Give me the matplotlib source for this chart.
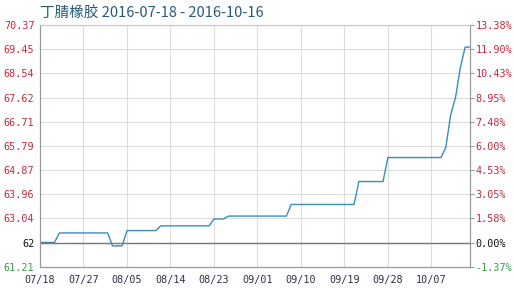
import numpy as np
import pandas as pd
import matplotlib
matplotlib.use('Agg')
import matplotlib.pyplot as plt

# price readings (date, price) at the points where the line changes
dates = ['2016-07-18', '2016-07-21', '2016-07-22', '2016-08-01', '2016-08-02',
         '2016-08-04', '2016-08-05', '2016-08-11', '2016-08-12', '2016-08-22',
         '2016-08-23', '2016-08-25', '2016-08-26', '2016-09-07', '2016-09-08',
         '2016-09-21', '2016-09-22', '2016-09-27', '2016-09-28', '2016-10-09',
         '2016-10-10', '2016-10-11', '2016-10-12', '2016-10-13', '2016-10-14',
         '2016-10-15']
prices = [62.13, 62.13, 62.49, 62.49, 62.00,
          62.00, 62.58, 62.58, 62.76, 62.76,
          63.02, 63.02, 63.13, 63.13, 63.57,
          63.57, 64.44, 64.44, 65.35, 65.35,
          65.74, 66.97, 67.63, 68.76, 69.54,
          69.54]

left_labels = ['61.21', '62', '63.04', '63.96', '64.87', '65.79',
               '66.71', '67.62', '68.54', '69.45', '70.37']
right_labels = ['-1.37%', '0.00%', '1.58%', '3.05%', '4.53%', '6.00%',
                '7.48%', '8.95%', '10.43%', '11.90%', '13.38%']
x_labels = ['07/18', '07/27', '08/05', '08/14', '08/23',
            '09/01', '09/10', '09/19', '09/28', '10/07']
title = '丁腈橡胶 2016-07-18 - 2016-10-16'

red = '#c8283c'
green = '#3f9a4a'
mono = 'DejaVu Sans Mono'

x = pd.to_datetime(dates)
start = pd.Timestamp('2016-07-18')
xt = [start + pd.Timedelta(days=9 * i) for i in range(len(x_labels))]

fig = plt.figure(figsize=(5.14, 2.92), dpi=100)
ax = fig.add_axes([40 / 514, 25.3 / 292, 430 / 514, 241.5 / 292])

ymin, ymax = 61.21, 70.37
yt = np.linspace(ymin, ymax, len(left_labels))

ax.set_xlim(start, start + pd.Timedelta(days=89))
ax.set_ylim(ymin, ymax)
ax.set_xticks(xt)
ax.set_xticklabels(x_labels)
ax.set_yticks(yt)
ax.set_yticklabels(left_labels)
ax.grid(True, color='#dcdcdc', linewidth=0.8)

ax.plot(x, prices, color='#3a8cbd', linewidth=1.0, zorder=3)
# base line sits on top of the price line
ax.axhline(yt[1], color='#777777', linewidth=1.0, zorder=4)

ax.tick_params(axis='x', length=0, pad=6, labelsize=7.3, labelcolor='#2e3048')
ax.tick_params(axis='y', length=0, pad=4, labelsize=7.3, labelcolor=red)
for lab in ax.get_xticklabels() + ax.get_yticklabels():
    lab.set_fontfamily(mono)
ax.get_yticklabels()[0].set_color(green)
ax.get_yticklabels()[1].set_color('#111111')

ax2 = ax.twinx()
ax2.set_ylim(ymin, ymax)
ax2.set_yticks(yt)
ax2.set_yticklabels(right_labels)
ax2.tick_params(axis='y', length=3, width=0.8, color='#999999', pad=1,
                labelsize=7.3, labelcolor=red)
for lab in ax2.get_yticklabels():
    lab.set_fontfamily(mono)
ax2.get_yticklabels()[0].set_color(green)
ax2.get_yticklabels()[1].set_color('#111111')

for a in (ax, ax2):
    for s in a.spines.values():
        s.set_color('#999999')
        s.set_linewidth(0.8)
    a.spines['top'].set_color('#cccccc')

fig.text(40 / 514, 1 - 13 / 292, title, fontsize=10.5, color='#255a78',
         va='center', ha='left', family=['Noto Sans CJK SC', 'DejaVu Sans'])

fig.savefig('out.png', dpi=100)
